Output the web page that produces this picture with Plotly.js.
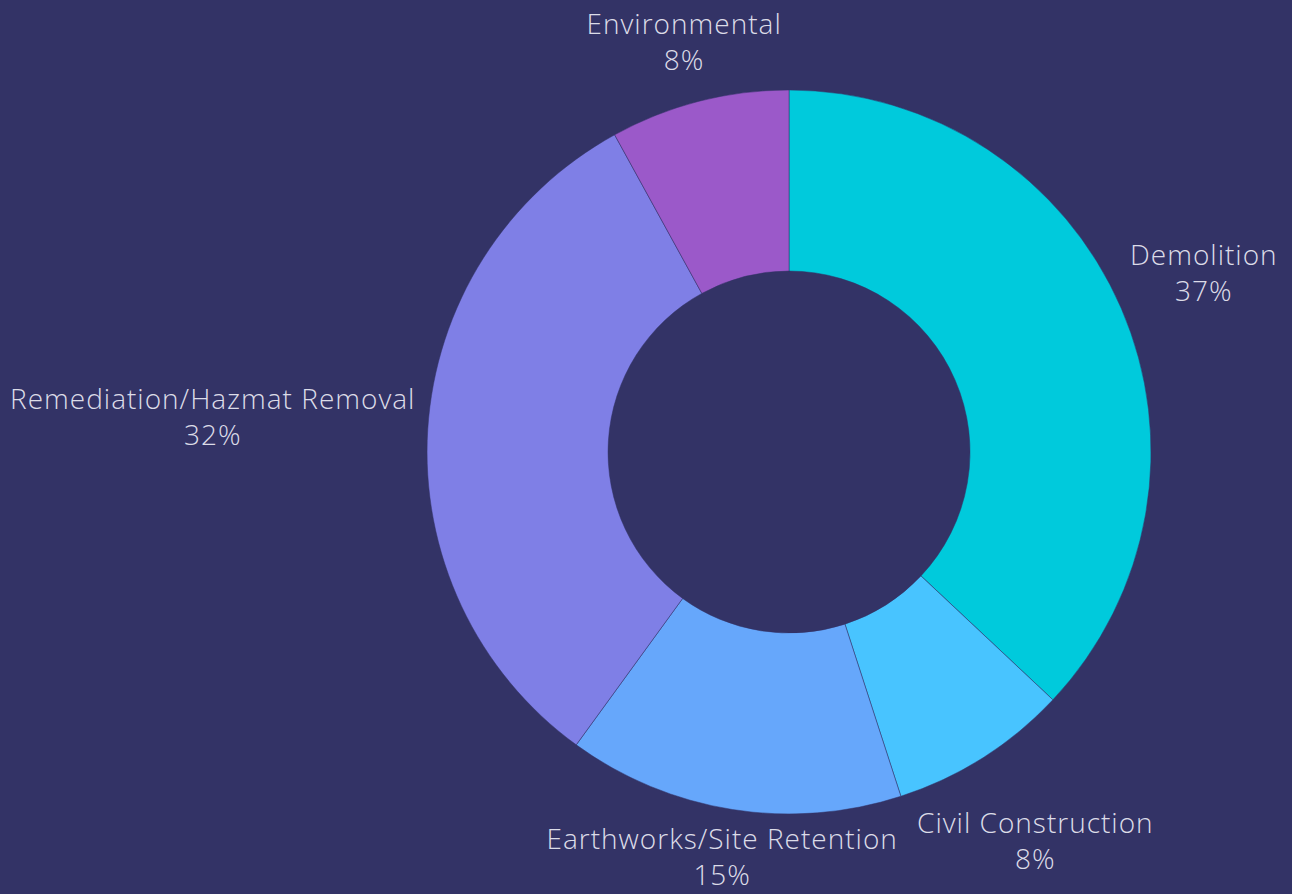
<!DOCTYPE html>
<html>
<head>
<meta charset="utf-8">
<script src="https://cdn.plot.ly/plotly-3.0.1.min.js"></script>
<style>
html,body{margin:0;padding:0;background:#333366;}
#chart{width:1292px;height:894px;}
#chart .annotation-text{letter-spacing:1px;}
</style>
</head>
<body>
<div id="chart"></div>
<script>
const categories = ["Demolition", "Civil Construction", "Earthworks/Site Retention", "Remediation/Hazmat Removal", "Environmental"];
const shares = [37, 8, 15, 32, 8];
const sliceColors = ["#00CADC", "#48C4FF", "#66A7FB", "#7F7FE6", "#9B59C9"];

const W = 1292, H = 894;
const domX = [0.3305, 0.8909], domY = [0.0895, 0.8993];
const FONT_SIZE = 28, FONT_FAMILY = "Open Sans", FONT_WEIGHT = 300, TEXT_COLOR = "#DCDCE8";
const LETTER_SPACING = 1;
const GAP = 12;

const trace = {
  type: "pie",
  labels: categories,
  values: shares,
  hole: 0.5,
  sort: false,
  direction: "clockwise",
  rotation: 0,
  textinfo: "none",
  hoverinfo: "label+percent",
  marker: { colors: sliceColors, line: { color: "#333366", width: 0.5 } },
  domain: { x: domX, y: domY },
  showlegend: false
};

// label placement derived from the data (mid-angle of each slice)
const ctx = document.createElement("canvas").getContext("2d");
ctx.font = FONT_WEIGHT + " " + FONT_SIZE + "px '" + FONT_FAMILY + "'";
function textWidth(s) { return ctx.measureText(s).width + s.length * LETTER_SPACING; }
const cx = (domX[0] + domX[1]) / 2 * W;
const cy = (1 - (domY[0] + domY[1]) / 2) * H;
const R = Math.min((domX[1] - domX[0]) * W, (domY[1] - domY[0]) * H) / 2;
const total = shares.reduce((a, b) => a + b, 0);
const halfH = FONT_SIZE * 0.96;
const clampHalfH = FONT_SIZE * 1.22;
let cum = 0;
const annotations = categories.map((name, i) => {
  const frac = shares[i] / total;
  const mid = (cum + frac / 2) * 2 * Math.PI;
  cum += frac;
  const pct = Math.round(frac * 100) + "%";
  const sx = Math.sin(mid), sy = -Math.cos(mid);
  const hw = Math.max(textWidth(name), textWidth(pct)) / 2;
  const k = Math.abs(sx) * hw + Math.abs(sy) * halfH + GAP;
  let px = cx + R * sx + k * sx;
  let py = cy + R * sy + k * sy;
  px = Math.min(Math.max(px, hw + 4), W - hw - 4);
  py = Math.min(Math.max(py, clampHalfH + 2), H - clampHalfH - 4);
  return {
    xref: "paper", yref: "paper",
    x: px / W, y: 1 - py / H,
    xanchor: "center", yanchor: "middle",
    text: name + "<br>" + pct,
    showarrow: false,
    align: "center",
    font: { family: FONT_FAMILY, size: FONT_SIZE, color: TEXT_COLOR, weight: FONT_WEIGHT }
  };
});

const layout = {
  width: W,
  height: H,
  paper_bgcolor: "#333366",
  plot_bgcolor: "#333366",
  margin: { l: 0, r: 0, t: 0, b: 0 },
  showlegend: false,
  font: { family: FONT_FAMILY, color: TEXT_COLOR },
  annotations: annotations
};

Plotly.newPlot("chart", [trace], layout, { displayModeBar: false, staticPlot: true });
</script>
</body>
</html>
